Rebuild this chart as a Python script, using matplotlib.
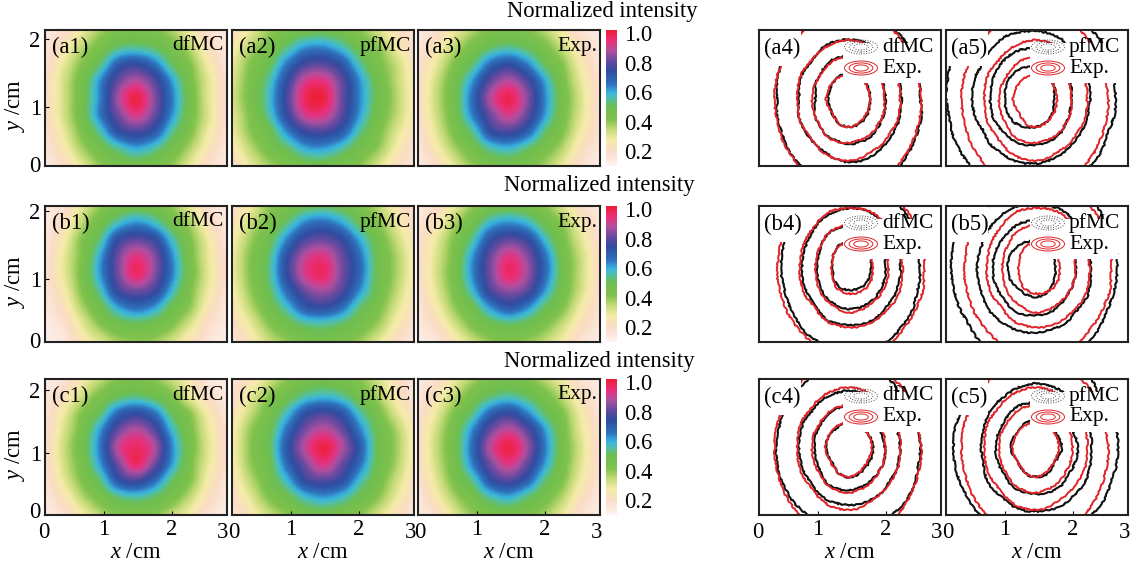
import matplotlib
matplotlib.use('Agg')
import matplotlib.pyplot as plt
import numpy as np
from matplotlib.colors import LinearSegmentedColormap, Normalize
from matplotlib.cm import ScalarMappable
from matplotlib.patches import Ellipse, Rectangle

plt.rcParams['font.family'] = ['Liberation Serif', 'DejaVu Serif']
plt.rcParams['mathtext.fontset'] = 'custom'
plt.rcParams['mathtext.it'] = 'Liberation Serif:italic'
plt.rcParams['mathtext.rm'] = 'Liberation Serif'

# intensidade (em %), 11 colunas x 9 linhas, de cima para baixo
a1 = [[14,19,29,38,43,45,43,37,28,18,13],
      [16,25,36,45,53,55,52,45,36,23,15],
      [18,30,42,53,70,75,67,52,42,28,16],
      [20,33,46,63,81,89,80,62,45,31,18],
      [20,33,47,64,87,100,85,65,47,31,18],
      [20,33,47,65,82,93,82,63,46,32,18],
      [18,30,43,56,73,78,72,55,43,29,17],
      [16,26,38,47,55,61,56,47,37,25,15],
      [14,20,30,40,45,47,45,40,30,19,14]]
a2 = [[20,30,39,45,48,49,46,41,33,23,16],
      [26,37,45,54,63,64,58,48,41,29,19],
      [30,42,50,66,78,80,72,56,44,35,22],
      [32,44,56,75,92,94,81,63,48,36,24],
      [33,45,58,78,98,100,82,64,49,37,24],
      [31,43,56,75,92,93,80,62,47,36,24],
      [29,41,49,64,76,78,71,55,44,32,22],
      [25,36,45,52,61,62,56,47,40,28,18],
      [20,30,38,43,47,48,45,41,32,22,16]]
a3 = [[14,19,29,37,43,44,42,36,27,17,13],
      [16,25,36,45,52,55,51,44,34,23,15],
      [18,30,43,53,68,74,65,51,41,27,16],
      [20,34,47,63,81,89,79,61,44,30,18],
      [21,35,48,68,89,99,85,64,46,32,18],
      [20,34,47,65,82,92,81,62,45,31,18],
      [18,31,44,55,74,78,70,53,42,28,17],
      [16,27,38,47,56,59,53,45,36,23,15],
      [14,20,31,40,45,46,44,38,29,18,13]]
b1 = [[13,18,30,40,45,48,46,40,30,19,13],
      [14,23,36,47,58,64,59,48,38,24,15],
      [16,27,42,54,75,81,76,58,43,29,16],
      [17,30,43,61,82,94,85,64,45,30,18],
      [17,30,44,62,82,97,85,65,46,31,18],
      [16,27,42,56,76,82,77,59,43,29,17],
      [15,23,37,48,61,67,62,49,40,25,15],
      [13,18,30,41,48,50,48,42,32,20,14],
      [12,15,25,31,38,40,39,33,24,16,12]]
b2 = [[19,29,40,45,50,52,49,44,36,26,17],
      [23,35,44,54,65,68,62,51,42,30,20],
      [27,39,49,65,79,82,76,61,47,35,23],
      [29,42,53,74,90,94,82,67,49,38,25],
      [29,42,54,75,92,97,83,68,49,38,25],
      [27,40,51,68,82,87,79,63,48,36,23],
      [24,36,47,58,71,74,67,53,44,32,21],
      [20,30,41,48,54,55,52,46,39,27,18],
      [17,25,34,40,44,45,43,39,31,21,15]]
b3 = [[14,20,30,40,46,48,46,41,32,20,14],
      [16,25,38,48,60,64,60,49,40,27,16],
      [18,30,43,56,74,81,76,59,44,31,18],
      [19,32,45,63,82,94,85,67,47,34,20],
      [19,33,46,64,83,97,87,68,48,34,20],
      [18,31,44,59,78,85,80,62,46,33,19],
      [16,27,40,49,63,71,64,51,42,28,17],
      [15,22,33,43,49,52,49,43,34,23,15],
      [12,16,25,34,40,42,40,35,27,17,13]]
c1 = [[13,17,27,35,42,43,41,34,26,16,12],
      [15,23,34,44,51,54,50,43,30,20,14],
      [17,29,42,52,68,74,67,51,41,27,16],
      [18,32,45,62,81,89,80,59,44,30,18],
      [19,34,47,65,90,97,89,64,46,31,18],
      [18,33,45,62,82,97,83,62,44,30,18],
      [17,30,42,53,72,78,68,52,42,27,16],
      [15,24,36,45,53,56,52,45,35,23,14],
      [13,18,27,36,42,43,42,35,27,17,13]]
c2 = [[16,24,33,41,45,47,44,41,33,23,15],
      [19,30,41,48,56,59,56,47,38,26,16],
      [23,35,46,58,73,78,72,57,45,32,21],
      [26,40,49,67,83,90,82,65,49,38,24],
      [27,41,51,72,90,100,89,71,50,39,25],
      [26,40,49,68,83,94,82,67,49,38,24],
      [24,36,47,59,75,79,74,58,46,34,22],
      [20,31,42,49,58,62,58,49,41,30,18],
      [16,25,34,41,46,47,45,41,33,23,15]]
c3 = [[14,19,29,38,44,45,43,36,28,18,13],
      [16,25,36,46,53,56,52,45,35,23,15],
      [18,30,43,54,69,75,65,52,42,28,16],
      [20,34,47,64,82,90,80,62,45,30,18],
      [21,35,48,68,90,100,87,65,46,32,18],
      [20,34,47,65,83,93,81,62,45,31,18],
      [18,31,44,55,73,79,70,53,42,28,17],
      [16,27,38,47,56,60,53,45,36,23,15],
      [14,20,31,40,45,46,44,38,29,18,13]]

linhas = ['a', 'b', 'c']
grades = {'a': [a1, a2, a3], 'b': [b1, b2, b3], 'c': [c1, c2, c3]}
nomes = ['dfMC', 'pfMC', 'Exp.']
niveis = [33, 50, 66, 83]
cbar_ticks = [0.2, 0.4, 0.6, 0.8, 1.0]
xticks = [1, 2]
yticks = [1, 2]

W, H = 1148, 565
topos = {'a': 30, 'b': 206, 'c': 379}
lims_y = {'a': (0.13, 2.13), 'b': (0.07, 2.07), 'c': (0.0, 2.18)}
lim_x = (0.13, 2.81)
esq_mapa = [45, 232, 418]
esq_cont = [759, 946]
larg, alt = 182, 136
FS = 16.3
FS_NOME = 15.5

cores = [(0.00, '#fdf3f0'), (0.11, '#fbdcc6'), (0.19, '#f5eca8'), (0.27, '#c4da76'),
         (0.34, '#7fc24c'), (0.44, '#6dbe50'), (0.49, '#55c0a0'), (0.54, '#38b6e2'),
         (0.60, '#2f72bd'), (0.70, '#2f4b9f'), (0.78, '#6a4aa0'), (0.85, '#b0509f'),
         (0.92, '#ea2f7c'), (1.00, '#ee1f32')]
cmap = LinearSegmentedColormap.from_list('intens', cores)
norm = Normalize(0.1, 1.02)


def catmull(v, n):
    v = np.concatenate(([2 * v[0] - v[1]], v, [2 * v[-1] - v[-2]]))
    t = np.linspace(0, len(v) - 3, (len(v) - 3) * n + 1)
    i = np.minimum(t.astype(int), len(v) - 4)
    f = t - i
    p0, p1, p2, p3 = v[i], v[i + 1], v[i + 2], v[i + 3]
    return 0.5 * (2 * p1 + (p2 - p0) * f + (2 * p0 - 5 * p1 + 4 * p2 - p3) * f ** 2
                  + (3 * p1 - p0 - 3 * p2 + p3) * f ** 3)


def suaviza(grade, n=6):
    g = np.array(grade, dtype=float)
    g = np.apply_along_axis(catmull, 0, g, n)
    return np.apply_along_axis(catmull, 1, g, n)


def eixo(x, topo):
    return fig.add_axes([x / W, 1 - (topo + alt) / H, larg / W, alt / H])


def texto_px(x, y, s, **kw):
    fig.text(x / W, 1 - y / H, s, fontsize=kw.pop('fontsize', FS), va='center', **kw)


def arruma(ax, linha, col, mostra_y):
    ax.set_xlim(lim_x)
    ax.set_ylim(lims_y[linha])
    ax.set_aspect('auto')
    for s in ax.spines.values():
        s.set_linewidth(1.5)
        s.set_color('#222222')
    ax.tick_params(direction='in', length=3, width=0.8, labelsize=FS, pad=3)
    ax.set_xticks(xticks)
    ax.set_yticks(yticks)
    if linha != 'c':
        ax.set_xticklabels([])
        ax.tick_params(axis='x', length=0)
    if not mostra_y:
        ax.set_yticklabels([])
        ax.tick_params(axis='y', length=0)


fig = plt.figure(figsize=(W / 100, H / 100), dpi=100)

for linha in linhas:
    topo = topos[linha]
    ext = [lim_x[0], lim_x[1], lims_y[linha][0], lims_y[linha][1]]
    xs = np.linspace(lim_x[0], lim_x[1], 61)
    ys = np.linspace(lims_y[linha][1], lims_y[linha][0], 49)

    # mapas de calor
    for k in range(3):
        ax = eixo(esq_mapa[k], topo)
        ax.imshow(suaviza(grades[linha][k]) / 100, cmap=cmap, norm=norm, extent=ext,
                  origin='upper', aspect='auto', interpolation='bilinear')
        arruma(ax, linha, k, k == 0)
        ax.text(7 / larg, 1 - 17 / alt, '(%s%d)' % (linha, k + 1), transform=ax.transAxes,
                fontsize=FS, va='center')
        ax.text(1 - 3 / larg, 1 - 16 / alt, nomes[k], transform=ax.transAxes,
                fontsize=FS_NOME, va='center', ha='right')

    # barra de cor
    cax = fig.add_axes([606 / W, 1 - (topo + alt) / H, 11 / W, alt / H])
    cb = fig.colorbar(ScalarMappable(norm=norm, cmap=cmap), cax=cax, ticks=cbar_ticks)
    cb.outline.set_visible(False)
    cb.ax.tick_params(length=0, labelsize=FS, pad=5)
    cb.ax.set_yticklabels(['%.1f' % t for t in cbar_ticks])

    xc = {'a': 602, 'b': 599, 'c': 599}[linha]
    yt = {'a': 12, 'b': 186, 'c': 361}[linha]
    texto_px(xc, yt, 'Normalized intensity', ha='center')
    texto_px(15, topo + 75, r'$y$ /cm', rotation=90, ha='center')
    texto_px(35, topo + alt - 2 if linha == 'c' else topo + alt + 1, '0', ha='center')

    # curvas de nivel
    for k in range(2):
        ax = eixo(esq_cont[k], topo)
        for g, cor, lw in ((grades[linha][k], '#111111', 1.5), (grades[linha][2], '#e0252a', 1.4)):
            cs = ax.contour(xs, ys, suaviza(g), levels=niveis, colors=cor, linewidths=lw)
            cs.set_sketch_params(scale=0.7, length=5, randomness=16)
        arruma(ax, linha, k, False)
        # areas brancas da legenda
        ax.add_patch(Rectangle((84 / larg, 1 - 53 / alt), 88 / larg, 40 / alt, transform=ax.transAxes,
                               facecolor='white', edgecolor='none', zorder=3))
        ax.add_patch(Rectangle((0.01, 1 - 36 / alt), 40 / larg, 35 / alt, transform=ax.transAxes,
                               facecolor='white', edgecolor='none', zorder=3))
        ax.text(5 / larg, 1 - 18 / alt, '(%s%d)' % (linha, k + 4), transform=ax.transAxes,
                fontsize=FS, va='center', zorder=5)
        for yy, cor, nome in ((17, '#444444', nomes[k]), (38, '#e0252a', nomes[2])):
            for fat in (1.0, 0.72, 0.44):
                ax.add_patch(Ellipse((102 / larg, 1 - yy / alt), 33 * fat / larg, 14 * fat / alt,
                                     transform=ax.transAxes, fill=False, edgecolor=cor, linewidth=0.7,
                                     linestyle=':' if cor != '#e0252a' else '-', zorder=4))
            ax.text(123 / larg, 1 - yy / alt, nome, transform=ax.transAxes, fontsize=FS_NOME,
                    va='center', zorder=5)

# rotulos das bordas da ultima linha
for x0 in esq_mapa + esq_cont:
    texto_px(x0 + (-1 if x0 in (45, 759) else 2), 532, '0', ha='center')
    texto_px(x0 + larg - 4, 532, '3', ha='center')
    texto_px(x0 + 91, 552, r'$x$ /cm', ha='center')

fig.savefig('out.png', dpi=100)
